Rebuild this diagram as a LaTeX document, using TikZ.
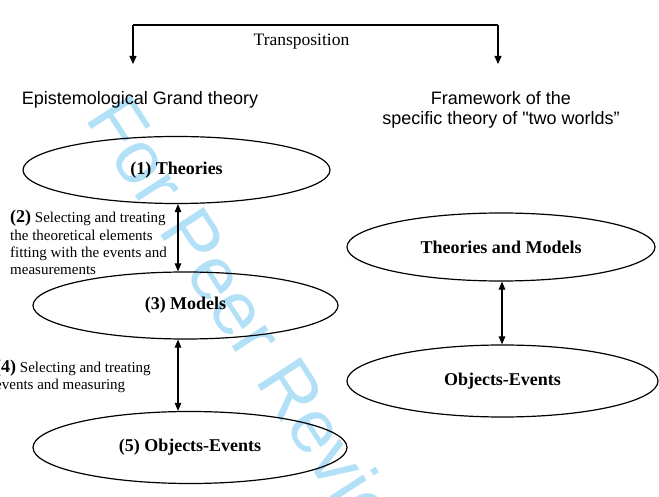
\documentclass[tikz,border=0pt]{standalone}
\usepackage{fontspec}
\setmainfont{Liberation Serif}
\newfontfamily\arialf{Liberation Sans}
\usetikzlibrary{shapes.geometric,arrows.meta}
\definecolor{wmark}{RGB}{178,224,247}
\newcommand{\numlab}[1]{{\fontsize{18}{17.4}\selectfont\bfseries #1}}
\begin{document}
\begin{tikzpicture}[x=1pt,y=-1pt,
  oval/.style={ellipse, draw, line width=1.2pt, inner sep=0pt, font=\fontsize{18}{20}\selectfont\bfseries},
  link/.style={line width=1.1pt, {Triangle[length=8pt,width=6.5pt]}-{Triangle[length=8pt,width=6.5pt]}},
  oneway/.style={line width=1.1pt, -{Triangle[length=8pt,width=7pt]}},
  head/.style={inner sep=0pt, font=\arialf\fontsize{18}{20}\selectfont, align=center},
  note/.style={inner sep=0pt, anchor=north west, align=left, font=\fontsize{15}{17.4}\selectfont}]
\useasboundingbox (0,0) rectangle (659,497);
% watermark
\node[rotate=-57, text=wmark, font=\arialf\fontsize{75}{80}\selectfont, inner sep=0pt] (wm) at (259,338) {For Peer Review};
% top bracket
\coordinate (tl) at (133,25);
\coordinate (tr) at (498,25);
\coordinate (tlb) at (133,64);
\coordinate (trb) at (498,64);
\draw[line width=1.1pt] (tl) -- (tr);
\draw[oneway] (tl) -- (tlb);
\draw[oneway] (tr) -- (trb);
\node[inner sep=0pt, font=\fontsize{17.5}{20}\selectfont] (tp) at (301.5,42) {Transposition};
% headings
\node[head] (h1) at (140,100) {Epistemological Grand theory};
\node[head] (h2) at (501,110) {Framework of the\\specific theory of "two worlds”};
% ellipses
\node[oval, minimum width=307pt, minimum height=67pt] (e1) at (176.5,170) {(1) Theories};
\node[oval, minimum width=305pt, minimum height=67pt] (e3) at (185.5,305.5) {(3) Models};
\node[oval, minimum width=314pt, minimum height=72pt] (e5) at (190,447.5) {(5) Objects-Events};
\node[oval, minimum width=308pt, minimum height=68pt] (tm) at (501,247) {Theories and Models};
\node[oval, minimum width=311pt, minimum height=72pt] (oe) at (502.5,381) {Objects-Events};
% connectors
\coordinate (ax) at (178,0);
\coordinate (bx) at (502,0);
\draw[link] (e1.south -| ax) -- (e3.north -| ax);
\draw[link] (e3.south -| ax) -- (e5.north -| ax);
\draw[link] (tm.south -| bx) -- (oe.north -| bx);
% notes
\node[note] (n2) at (10,210) {\numlab{(2)} Selecting and treating\\the theoretical elements\\fitting with the events and\\measurements};
\node[note] (n4) at (-5,359.6) {\numlab{(4)} Selecting and treating\\events and measuring};
\end{tikzpicture}
\end{document}
